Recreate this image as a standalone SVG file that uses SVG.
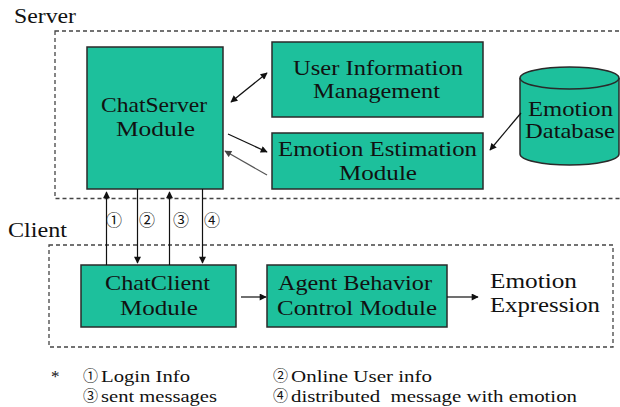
<svg xmlns="http://www.w3.org/2000/svg" width="620" height="407" viewBox="0 0 620 407">
<style>
.box{fill:#1DC09C;stroke:#2a2a2a;stroke-width:1.5;}
.dash{fill:none;stroke:#444;stroke-width:1.3;stroke-dasharray:4 3;}
.c{stroke:#111;stroke-width:1.2;fill:none;}
</style>
<defs>
<marker id="ah" viewBox="0 0 10 10" refX="9" refY="5" markerWidth="8" markerHeight="7" markerUnits="userSpaceOnUse" orient="auto-start-reverse">
<path d="M0,0 L10,5 L0,10 z" fill="#111"/>
</marker>
<marker id="ahg" viewBox="0 0 10 10" refX="9" refY="5" markerWidth="8" markerHeight="7" markerUnits="userSpaceOnUse" orient="auto">
<path d="M0,0 L10,5 L0,10 z" fill="#444"/>
</marker>
</defs>
<rect width="620" height="407" fill="#fff"/>
<g font-family="Liberation Serif, DejaVu Serif, serif" fill="#111">
<g id="server-area">
<rect class="dash" x="55" y="31" width="580" height="167.5"/>
<text x="14" y="23" font-size="20" textLength="62" lengthAdjust="spacingAndGlyphs">Server</text>
</g>
<g id="client-area">
<rect class="dash" x="49" y="245" width="564" height="102"/>
<text x="8" y="237" font-size="20" textLength="59" lengthAdjust="spacingAndGlyphs">Client</text>
</g>

<g id="chatserver">
<rect class="box" x="87" y="47" width="136" height="142"/>
<text x="101" y="112" font-size="21" textLength="106" lengthAdjust="spacingAndGlyphs">ChatServer</text>
<text x="116" y="136" font-size="21" textLength="79" lengthAdjust="spacingAndGlyphs">Module</text>
</g>
<g id="userinfo">
<rect class="box" x="272" y="42" width="211" height="75"/>
<text x="293" y="75" font-size="21" textLength="170" lengthAdjust="spacingAndGlyphs">User Information</text>
<text x="313" y="98" font-size="21" textLength="127" lengthAdjust="spacingAndGlyphs">Management</text>
</g>
<g id="emotionest">
<rect class="box" x="272" y="133" width="211" height="56"/>
<text x="278" y="156" font-size="21" textLength="199" lengthAdjust="spacingAndGlyphs">Emotion Estimation</text>
<text x="339" y="180" font-size="21" textLength="78" lengthAdjust="spacingAndGlyphs">Module</text>
</g>
<g id="emotiondb">
<path class="box" d="M520,78 L520,154 A49.5,11 0 0 0 619,154 L619,78"/>
<ellipse class="box" cx="569.5" cy="78" rx="49.5" ry="11"/>
<text x="528" y="116" font-size="21" textLength="85" lengthAdjust="spacingAndGlyphs">Emotion</text>
<text x="525" y="138" font-size="21" textLength="90" lengthAdjust="spacingAndGlyphs">Database</text>
</g>
<g id="chatclient">
<rect class="box" x="81" y="265" width="155" height="62"/>
<text x="105" y="290" font-size="21" textLength="105" lengthAdjust="spacingAndGlyphs">ChatClient</text>
<text x="120" y="315" font-size="21" textLength="78" lengthAdjust="spacingAndGlyphs">Module</text>
</g>
<g id="agent">
<rect class="box" x="267" y="265" width="180" height="62"/>
<text x="278" y="290" font-size="21" textLength="154" lengthAdjust="spacingAndGlyphs">Agent Behavior</text>
<text x="277" y="315" font-size="21" textLength="160" lengthAdjust="spacingAndGlyphs">Control Module</text>
</g>
<g id="expression">
<text x="490" y="288" font-size="21" textLength="87" lengthAdjust="spacingAndGlyphs">Emotion</text>
<text x="490" y="312" font-size="21" textLength="110" lengthAdjust="spacingAndGlyphs">Expression</text>
</g>

<g id="connectors">
<line class="c" x1="231" y1="102" x2="267" y2="73" marker-start="url(#ah)" marker-end="url(#ah)"/>
<line class="c" x1="228" y1="134" x2="267" y2="152" marker-end="url(#ah)"/>
<line x1="267" y1="175" x2="225" y2="151" stroke="#555" stroke-width="1.2" marker-end="url(#ahg)"/>
<line class="c" x1="521" y1="113" x2="490" y2="150" marker-end="url(#ah)"/>
<line class="c" x1="106.5" y1="265" x2="106.5" y2="192" marker-end="url(#ah)"/>
<line class="c" x1="137.5" y1="189" x2="137.5" y2="263" marker-end="url(#ah)"/>
<line class="c" x1="169.5" y1="265" x2="169.5" y2="192" marker-end="url(#ah)"/>
<line class="c" x1="202.5" y1="189" x2="202.5" y2="263" marker-end="url(#ah)"/>
<line class="c" x1="241" y1="297" x2="266" y2="297" marker-end="url(#ah)"/>
<line class="c" x1="447" y1="297" x2="478" y2="297" marker-end="url(#ah)"/>
</g>

<g id="arrow-labels" font-family="Noto Sans CJK JP, DejaVu Sans, sans-serif" font-size="16" text-anchor="middle">
<text x="114" y="226">①</text>
<text x="147" y="226">②</text>
<text x="181" y="226">③</text>
<text x="212" y="226">④</text>
</g>

<g id="legend" font-size="17">
<text x="51" y="382">*</text>
<g font-family="Noto Sans CJK JP, DejaVu Sans, sans-serif" font-size="15">
<text x="83" y="381">①</text>
<text x="83" y="401">③</text>
<text x="273" y="381">②</text>
<text x="273" y="401">④</text>
</g>
<text x="101" y="382" textLength="89" lengthAdjust="spacingAndGlyphs">Login Info</text>
<text x="101" y="402" textLength="116" lengthAdjust="spacingAndGlyphs">sent messages</text>
<text x="291" y="382" textLength="141" lengthAdjust="spacingAndGlyphs">Online User info</text>
<text x="291" y="402" textLength="286" lengthAdjust="spacingAndGlyphs" xml:space="preserve">distributed  message with emotion</text>
</g>
</g>
</svg>
